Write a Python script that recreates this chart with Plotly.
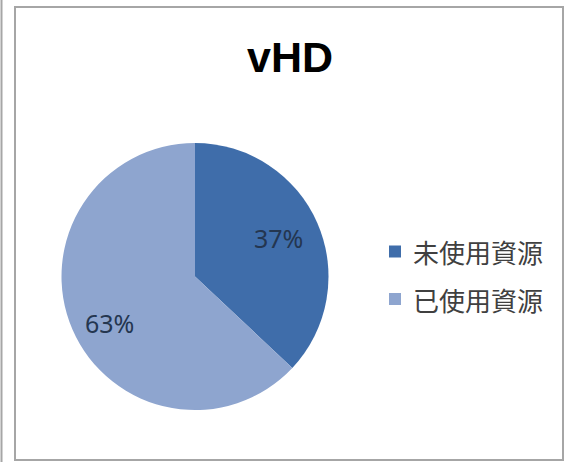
import math
import plotly.graph_objects as go

W, H = 567, 462
title_text = "vHD"
labels = ["未使用資源", "已使用資源"]
values = [37, 63]
colors = ["#3F6DAA", "#8EA5CF"]

# pie geometry (pixels)
CX, CY, R = 195, 276.5, 133.5
label_frac = [0.69, 0.73]      # label distance as fraction of radius
label_shift = [-1.0, -5.0]     # angular nudge of label (degrees)

def px(x):
    return x / W

def py(y):
    return 1 - y / H

fig = go.Figure()
fig.add_trace(go.Pie(
    labels=labels,
    values=values,
    sort=False,
    direction="clockwise",
    rotation=0,
    marker=dict(colors=colors, line=dict(width=0)),
    textinfo="none",
    domain=dict(x=[px(CX - R), px(CX + R)], y=[py(CY + R), py(CY - R)]),
    showlegend=False,
    hoverinfo="label+percent",
))

shapes = [
    dict(type="rect", xref="paper", yref="paper", x0=px(15), x1=px(563), y0=py(460), y1=py(7),
         line=dict(color="#A6A6A6", width=2), fillcolor="rgba(0,0,0,0)"),
    dict(type="line", xref="paper", yref="paper", x0=px(1.5), x1=px(1.5), y0=0, y1=1,
         line=dict(color="#A6A6A6", width=2)),
]
annotations = [
    dict(text="<b>%s</b>" % title_text, x=px(290), y=py(57), xref="paper", yref="paper",
         showarrow=False, xanchor="center", yanchor="middle",
         font=dict(family="Liberation Sans", size=43, color="#000000")),
]

total = sum(values)
cum = 0
for v, frac, sh in zip(values, label_frac, label_shift):
    mid = (cum + v / 2) / total * 360 + sh
    cum += v
    a = math.radians(mid)
    lx = CX + frac * R * math.sin(a)
    ly = CY - frac * R * math.cos(a)
    annotations.append(dict(text="%d%%" % round(v / total * 100), x=px(lx), y=py(ly),
                            xref="paper", yref="paper", showarrow=False,
                            xanchor="center", yanchor="middle",
                            font=dict(family="Noto Sans", size=25, color="#243650")))

legend_y = [251.5, 299]
for lab, col, yy in zip(labels, colors, legend_y):
    shapes.append(dict(type="rect", xref="paper", yref="paper",
                       x0=px(389), x1=px(401), y0=py(yy + 6), y1=py(yy - 6),
                       line=dict(width=0), fillcolor=col))
    annotations.append(dict(text=lab, x=px(411), y=py(yy), xref="paper", yref="paper",
                            showarrow=False, xanchor="left", yanchor="middle",
                            font=dict(family="Noto Sans CJK TC", size=26, color="#404040")))

fig.update_layout(
    width=W, height=H,
    margin=dict(l=0, r=0, t=0, b=0),
    paper_bgcolor="white", plot_bgcolor="white",
    shapes=shapes, annotations=annotations,
)
fig.write_html("out.html", config={"displayModeBar": False},
               post_script="document.body.style.margin='0';document.body.style.overflow='hidden';")
